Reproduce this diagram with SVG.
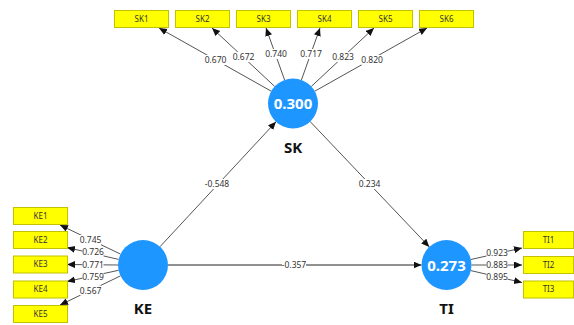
<svg xmlns="http://www.w3.org/2000/svg" width="574" height="325" viewBox="0 0 574 325">
<style>
.ind rect{fill:#FFFF00;stroke:#C2C200;stroke-width:1}
.ind text{font-family:"Noto Sans","Open Sans",sans-serif;font-size:8px;fill:#333;text-anchor:middle}
.lv circle{fill:#1E96FF}
.lv .val{font-family:"Noto Sans","Open Sans",sans-serif;font-size:15px;font-weight:bold;fill:#fff;text-anchor:middle}
.lv .nm{font-family:"Noto Sans","Open Sans",sans-serif;font-size:15px;font-weight:bold;fill:#111;text-anchor:middle}
.e line{stroke:#555;stroke-width:1;marker-end:url(#ah)}
.lbl rect{fill:#fff}
.lbl text{font-family:"Noto Sans","Open Sans",sans-serif;font-size:8.5px;fill:#333;text-anchor:middle}
</style>
<defs>
<marker id="ah" markerUnits="userSpaceOnUse" markerWidth="9" markerHeight="8" refX="8" refY="3.5" orient="auto">
<path d="M0,0 L8,3.5 L0,7 z" fill="#111"/>
</marker>
</defs>
<g id="connectors" class="e">
<line x1="160" y1="246.7" x2="276" y2="121.8"/>
<line x1="310.2" y1="121.6" x2="429.3" y2="246.9"/>
<line x1="168" y1="265" x2="421.5" y2="265" style="stroke:#222"/>
<line x1="271.2" y1="91.2" x2="159" y2="28"/>
<line x1="274.7" y1="86.45" x2="212" y2="28"/>
<line x1="284.6" y1="80" x2="266" y2="28"/>
<line x1="301.4" y1="80" x2="320" y2="28"/>
<line x1="311.3" y1="86.45" x2="374" y2="28"/>
<line x1="314.8" y1="91.2" x2="427" y2="28"/>
<line x1="120.5" y1="254.1" x2="60" y2="225"/>
<line x1="118.6" y1="259.4" x2="67" y2="247.5"/>
<line x1="118" y1="265" x2="67" y2="264.5"/>
<line x1="118.6" y1="270.3" x2="67" y2="281.5"/>
<line x1="120.5" y1="275.9" x2="60" y2="305"/>
<line x1="470.9" y1="259.5" x2="522" y2="248"/>
<line x1="471.5" y1="265" x2="522" y2="265"/>
<line x1="470.9" y1="270.6" x2="522" y2="282.5"/>
</g>
<g id="labels" class="lbl">
<rect x="205" y="179" width="24" height="10"/><text x="217" y="187.2">-0.548</text>
<rect x="359" y="179" width="21" height="10"/><text x="369.5" y="187.2">0.234</text>
<rect x="282" y="260" width="24" height="10"/><text x="294" y="268.2">-0.357</text>
<rect x="205" y="55" width="21" height="10"/><text x="215.5" y="63.2">0.670</text>
<rect x="233" y="52" width="21" height="10"/><text x="243.5" y="60.2">0.672</text>
<rect x="265.5" y="49" width="21" height="10"/><text x="276" y="57.2">0.740</text>
<rect x="300.5" y="49" width="21" height="10"/><text x="311" y="57.2">0.717</text>
<rect x="332.5" y="52" width="21" height="10"/><text x="343" y="60.2">0.823</text>
<rect x="361.5" y="55" width="21" height="10"/><text x="372" y="63.2">0.820</text>
<rect x="80" y="235" width="21" height="10"/><text x="90.5" y="243.2">0.745</text>
<rect x="82.5" y="247.2" width="21" height="10"/><text x="93" y="255.4">0.726</text>
<rect x="82.5" y="259.5" width="21" height="10"/><text x="93" y="267.7">0.771</text>
<rect x="82.5" y="271.5" width="21" height="10"/><text x="93" y="279.7">0.759</text>
<rect x="80" y="285.4" width="21" height="10"/><text x="90.5" y="293.6">0.567</text>
<rect x="486.5" y="247.8" width="21" height="10"/><text x="497" y="256">0.923</text>
<rect x="486.5" y="259.6" width="21" height="10"/><text x="497" y="267.8">0.883</text>
<rect x="486.5" y="271.5" width="21" height="10"/><text x="497" y="279.7">0.895</text>
</g>
<g id="SK" class="lv"><circle cx="293" cy="103.5" r="25"/><text class="val" x="293" y="109">0.300</text><text class="nm" x="293" y="153">SK</text></g>
<g id="KE" class="lv"><circle cx="143" cy="265" r="25"/><text class="nm" x="143" y="313.5">KE</text></g>
<g id="TI" class="lv"><circle cx="446.5" cy="265" r="25"/><text class="val" x="446.5" y="270.5">0.273</text><text class="nm" x="446.5" y="313.5">TI</text></g>
<g id="SK1" class="ind"><rect x="114.5" y="10.5" width="54" height="17"/><text x="141.5" y="21.8">SK1</text></g>
<g id="SK2" class="ind"><rect x="175.5" y="10.5" width="54" height="17"/><text x="202.5" y="21.8">SK2</text></g>
<g id="SK3" class="ind"><rect x="236.5" y="10.5" width="54" height="17"/><text x="263.5" y="21.8">SK3</text></g>
<g id="SK4" class="ind"><rect x="297.5" y="10.5" width="54" height="17"/><text x="324.5" y="21.8">SK4</text></g>
<g id="SK5" class="ind"><rect x="358.5" y="10.5" width="54" height="17"/><text x="385.5" y="21.8">SK5</text></g>
<g id="SK6" class="ind"><rect x="419.5" y="10.5" width="54" height="17"/><text x="446.5" y="21.8">SK6</text></g>
<g id="KE1" class="ind"><rect x="13.5" y="207.5" width="54" height="17"/><text x="40.5" y="218.8">KE1</text></g>
<g id="KE2" class="ind"><rect x="13.5" y="231.5" width="54" height="17"/><text x="40.5" y="242.8">KE2</text></g>
<g id="KE3" class="ind"><rect x="13.5" y="256" width="54" height="17"/><text x="40.5" y="267.3">KE3</text></g>
<g id="KE4" class="ind"><rect x="13.5" y="281" width="54" height="17"/><text x="40.5" y="292.3">KE4</text></g>
<g id="KE5" class="ind"><rect x="13.5" y="305.5" width="54" height="17"/><text x="40.5" y="316.8">KE5</text></g>
<g id="TI1" class="ind"><rect x="523.5" y="231.5" width="50" height="17"/><text x="548.5" y="242.8">TI1</text></g>
<g id="TI2" class="ind"><rect x="523.5" y="256.5" width="50" height="17"/><text x="548.5" y="267.8">TI2</text></g>
<g id="TI3" class="ind"><rect x="523.5" y="281" width="50" height="17"/><text x="548.5" y="292.3">TI3</text></g>
</svg>
